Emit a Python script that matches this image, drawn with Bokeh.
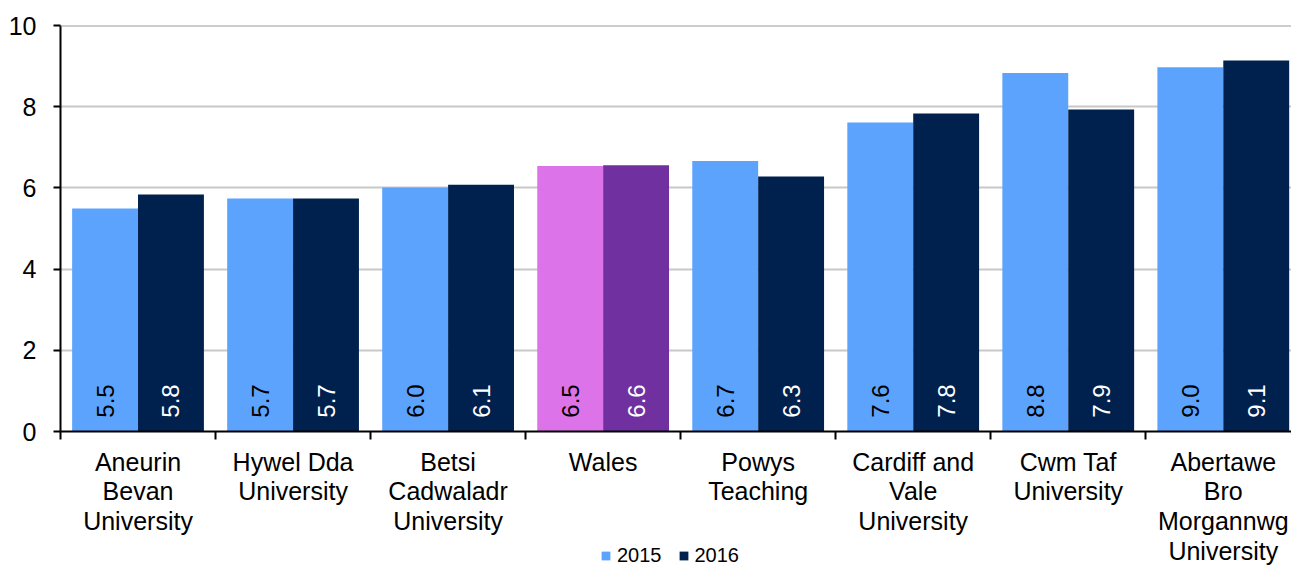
import math
from bokeh.plotting import figure
from bokeh.layouts import column
from bokeh.models import (Range1d, FixedTicker, Span, Legend, LegendItem, ColumnDataSource)
from bokeh.core.properties import value
from bokeh.embed import file_html
from bokeh.resources import INLINE

categories = ["Aneurin\nBevan\nUniversity", "Hywel Dda\nUniversity", "Betsi\nCadwaladr\nUniversity",
              "Wales", "Powys\nTeaching", "Cardiff and\nVale\nUniversity", "Cwm Taf\nUniversity",
              "Abertawe\nBro\nMorgannwg\nUniversity"]
values_2015 = [5.49, 5.74, 6.01, 6.54, 6.66, 7.61, 8.83, 8.97]
values_2016 = [5.84, 5.74, 6.08, 6.56, 6.28, 7.83, 7.93, 9.14]
y_ticks = [0, 2, 4, 6, 8, 10]
series = ["2015", "2016"]

C15 = "#5CA3FE"
C16 = "#00214E"
W15 = "#DD73E8"
W16 = "#7030A0"
FONT = "Liberation Sans"

W = 1291
H1 = 446
H2 = 567 - H1

n = len(categories)
bw = 0.425
centers = [i + 0.5 for i in range(n)]
is_wales = [c == "Wales" for c in categories]
xr = Range1d(0, 7.94)

p = figure(width=W, height=H1, output_backend="svg", toolbar_location=None,
           x_range=xr, y_range=Range1d(0, 10),
           min_border_left=60, min_border_right=0, min_border_top=25, min_border_bottom=15)
p.outline_line_color = None

def sub(vals, mask, offset):
    xs = [c + offset for c, m in zip(centers, mask) if m]
    ys = [v for v, m in zip(vals, mask) if m]
    return ColumnDataSource(dict(x=xs, top=ys))

not_w = [not w for w in is_wales]
p.vbar(x="x", top="top", width=bw, source=sub(values_2015, not_w, -bw / 2), fill_color=C15, line_color=None)
p.vbar(x="x", top="top", width=bw, source=sub(values_2016, not_w, bw / 2), fill_color=C16, line_color=None)
p.vbar(x="x", top="top", width=bw, source=sub(values_2015, is_wales, -bw / 2), fill_color=W15, line_color=None)
p.vbar(x="x", top="top", width=bw, source=sub(values_2016, is_wales, bw / 2), fill_color=W16, line_color=None)

# value labels
lab_x = [c - bw / 2 for c in centers] + [c + bw / 2 for c in centers]
lab_t = [f"{v:.1f}" for v in values_2015] + [f"{v:.1f}" for v in values_2016]
lab_c = ["black"] * n + ["white"] * n
p.text(x=lab_x, y=[0.34] * (2 * n), text=lab_t, text_color=lab_c, angle=math.pi / 2,
       text_align="left", text_baseline="middle", text_font=value(FONT), text_font_size="24px")

# axes
p.xaxis.ticker = FixedTicker(ticks=[], minor_ticks=list(range(n + 1)))
p.xaxis.major_label_standoff = 0
p.xaxis.major_tick_line_color = None
p.xaxis.major_tick_out = 0
p.xaxis.major_tick_in = 0
p.xaxis.minor_tick_line_color = "black"
p.xaxis.minor_tick_line_width = 2
p.xaxis.minor_tick_out = 8
p.xaxis.minor_tick_in = 0
p.xaxis.axis_line_color = "black"
p.xaxis.axis_line_width = 2

p.yaxis.ticker = FixedTicker(ticks=y_ticks)
p.yaxis.axis_line_color = "black"
p.yaxis.axis_line_width = 2
p.yaxis.major_tick_line_color = "black"
p.yaxis.major_tick_line_width = 2
p.yaxis.major_tick_out = 7
p.yaxis.major_tick_in = 0
p.yaxis.minor_tick_line_color = None
p.yaxis.major_label_standoff = 17
p.yaxis.major_label_text_font = FONT
p.yaxis.major_label_text_font_size = "25px"
p.yaxis.major_label_text_color = "black"

p.xgrid.grid_line_color = None
p.ygrid.grid_line_color = "#C8C8C8"
p.ygrid.grid_line_width = 2
p.add_layout(Span(location=10, dimension="width", line_color="#9A9A9A", line_width=2))

# category labels + legend panel
p2 = figure(width=W, height=H2, output_backend="svg", toolbar_location=None,
            x_range=xr, y_range=Range1d(0, H2), x_axis_type=None, y_axis_type=None,
            min_border_left=60, min_border_right=0, min_border_top=0, min_border_bottom=0)
p2.outline_line_color = None
p2.grid.grid_line_color = None
p2.text(x=centers, y=[H2 - 1] * n, text=categories, text_align="center", text_baseline="top",
        text_font=value(FONT), text_font_size="25px", text_line_height=1.06, text_color="black")

# legend proxies (zero-height bars, invisible)
d15 = p2.vbar(x=[0], top=[0], bottom=[0], width=0.01, fill_color=C15, line_color=None)
d16 = p2.vbar(x=[0], top=[0], bottom=[0], width=0.01, fill_color=C16, line_color=None)
legend = Legend(items=[LegendItem(label=series[0], renderers=[d15]), LegendItem(label=series[1], renderers=[d16])],
                orientation="horizontal", location=(540, 0), padding=0, margin=0, spacing=16,
                glyph_width=11, glyph_height=11, label_standoff=6, label_height=20,
                label_text_font=FONT, label_text_font_size="20px", label_text_color="black",
                border_line_color=None, background_fill_alpha=0)
p2.add_layout(legend)

open("out.html", "w").write(file_html(column(p, p2, spacing=0), INLINE))
